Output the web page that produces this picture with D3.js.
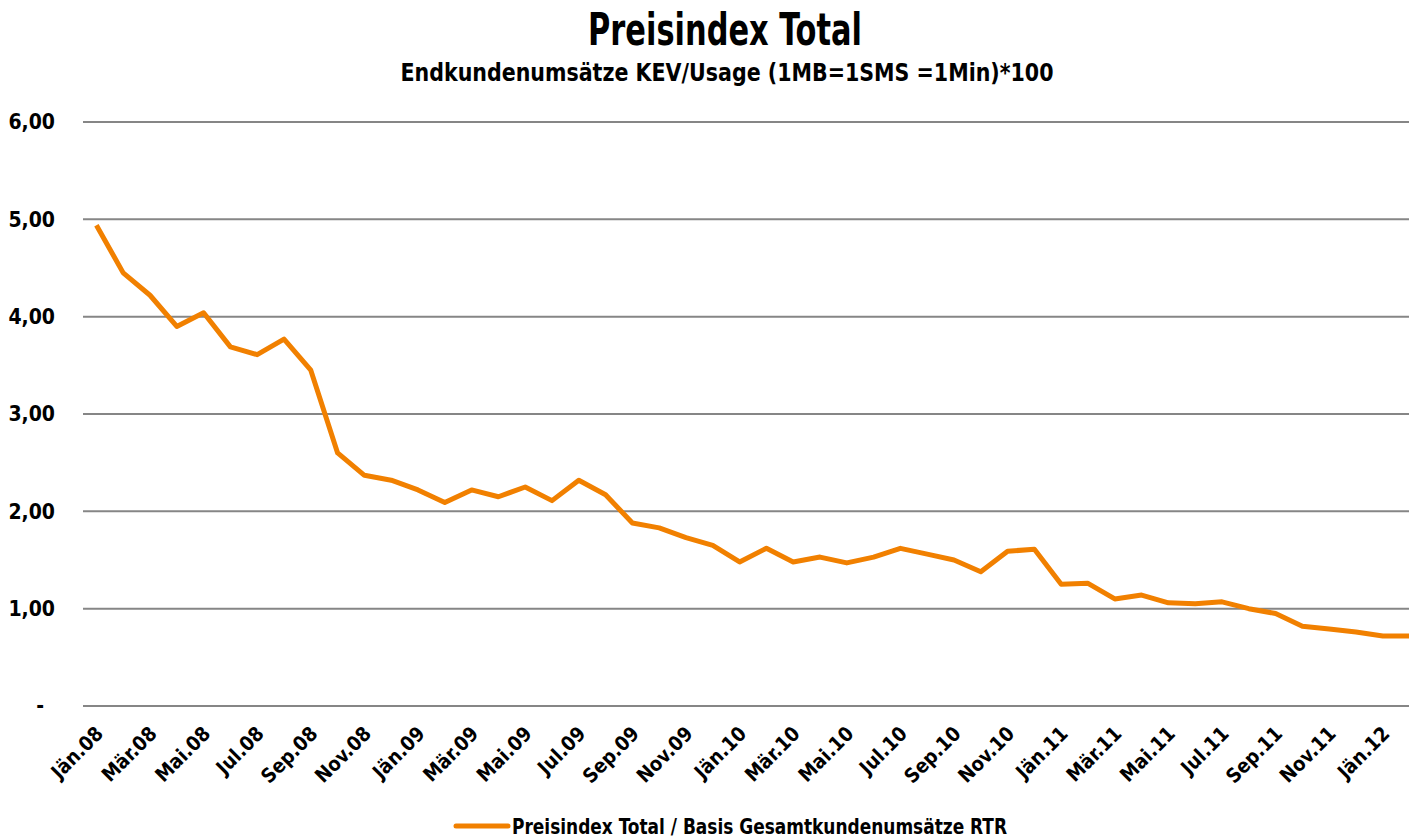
<!DOCTYPE html>
<html lang="de">
<head>
  <meta charset="UTF-8">
  <title>Preisindex Total</title>
  <style>
    * {
      box-sizing: border-box;
      margin: 0;
    }
    body {
      background: #fff;
      overflow: hidden;
    }
    svg text {
      font-family: "Liberation Sans Narrow", "DejaVu Sans Condensed", "Roboto Condensed", "Liberation Sans", sans-serif;
      font-weight: bold;
      fill: #000;
    }
    .grid line {
      stroke: #868686;
      stroke-width: 2;
    }
    .series {
      fill: none;
      stroke: #f18000;
      stroke-width: 5;
      stroke-linejoin: round;
    }
  </style>
</head>
<body>
  <svg></svg>
  <script src="https://d3js.org/d3.v7.min.js"></script>
  <script>
    const monthNames = ['Jän', 'Feb', 'Mär', 'Apr', 'Mai', 'Jun', 'Jul', 'Aug', 'Sep', 'Okt', 'Nov', 'Dez'];
    const years = ['08', '09', '10', '11', '12'];
    // Jän.08 .. Feb.12
    const months = years.flatMap(y => monthNames.map(m => m + '.' + y)).slice(0, 50);

    const values = [
      4.94, 4.45, 4.22, 3.90, 4.04, 3.69, 3.61, 3.77, 3.45, 2.60,
      2.37, 2.32, 2.22, 2.09, 2.22, 2.15, 2.25, 2.11, 2.32, 2.17,
      1.88, 1.83, 1.73, 1.65, 1.48, 1.62, 1.48, 1.53, 1.47, 1.53,
      1.62, 1.56, 1.50, 1.38, 1.59, 1.61, 1.25, 1.26, 1.10, 1.14,
      1.06, 1.05, 1.07, 1.00, 0.95, 0.82, 0.79, 0.76, 0.72, 0.72
    ];

    const yTicks = [0, 1, 2, 3, 4, 5, 6];

    const title = 'Preisindex Total';
    const subtitle = 'Endkundenumsätze KEV/Usage (1MB=1SMS =1Min)*100';
    const seriesName = 'Preisindex Total / Basis Gesamtkundenumsätze RTR';

    const width = 1409;
    const height = 839;

    const svg = d3.select('svg')
      .attr('width', width)
      .attr('height', height);

    // plot area runs a little past the right edge, as in the original
    const x = d3.scaleBand()
      .domain(months)
      .range([83, 83 + 50 * 26.8]);

    const y = d3.scaleLinear()
      .domain([0, 6])
      .range([706, 122]);

    const fmt = v => v === 0 ? '-' : d3.format('.2f')(v).replace('.', ',');

    // titles
    svg.append('text')
      .attr('x', 725)
      .attr('y', 45)
      .attr('text-anchor', 'middle')
      .attr('font-size', 44)
      .attr('textLength', 274)
      .attr('lengthAdjust', 'spacingAndGlyphs')
      .text(title);

    svg.append('text')
      .attr('x', 727)
      .attr('y', 81)
      .attr('text-anchor', 'middle')
      .attr('font-size', 25)
      .attr('textLength', 653)
      .attr('lengthAdjust', 'spacingAndGlyphs')
      .text(subtitle);

    // gridlines
    svg.append('g')
      .attr('class', 'grid')
      .selectAll('line')
      .data(yTicks)
      .join('line')
      .attr('x1', x.range()[0])
      .attr('x2', x.range()[1])
      .attr('y1', d => y(d))
      .attr('y2', d => y(d));

    // y labels
    svg.append('g')
      .selectAll('text')
      .data(yTicks)
      .join('text')
      .attr('x', d => d === 0 ? 44 : 55)
      .attr('y', d => y(d))
      .attr('dy', '0.35em')
      .attr('text-anchor', 'end')
      .attr('font-size', 21)
      .text(fmt);

    // x labels, every second month
    svg.append('g')
      .selectAll('text')
      .data(months.filter((m, i) => i % 2 === 0))
      .join('text')
      .attr('transform', d => 'translate(' + (x(d) + x.bandwidth() / 2 + 8) + ',735) rotate(-45)')
      .attr('text-anchor', 'end')
      .attr('font-size', 20)
      .text(d => d);

    // the series
    const line = d3.line()
      .x((d, i) => x(months[i]) + x.bandwidth() / 2)
      .y(d => y(d));

    svg.append('path')
      .datum(values)
      .attr('class', 'series')
      .attr('d', line);

    // legend
    const legend = svg.append('g');
    legend.append('line')
      .attr('x1', 456)
      .attr('x2', 508)
      .attr('y1', 826)
      .attr('y2', 826)
      .attr('stroke', '#f18000')
      .attr('stroke-width', 5)
      .attr('stroke-linecap', 'round');
    legend.append('text')
      .attr('x', 512)
      .attr('y', 834)
      .attr('font-size', 22)
      .attr('textLength', 495)
      .attr('lengthAdjust', 'spacingAndGlyphs')
      .text(seriesName);
  </script>
</body>
</html>
